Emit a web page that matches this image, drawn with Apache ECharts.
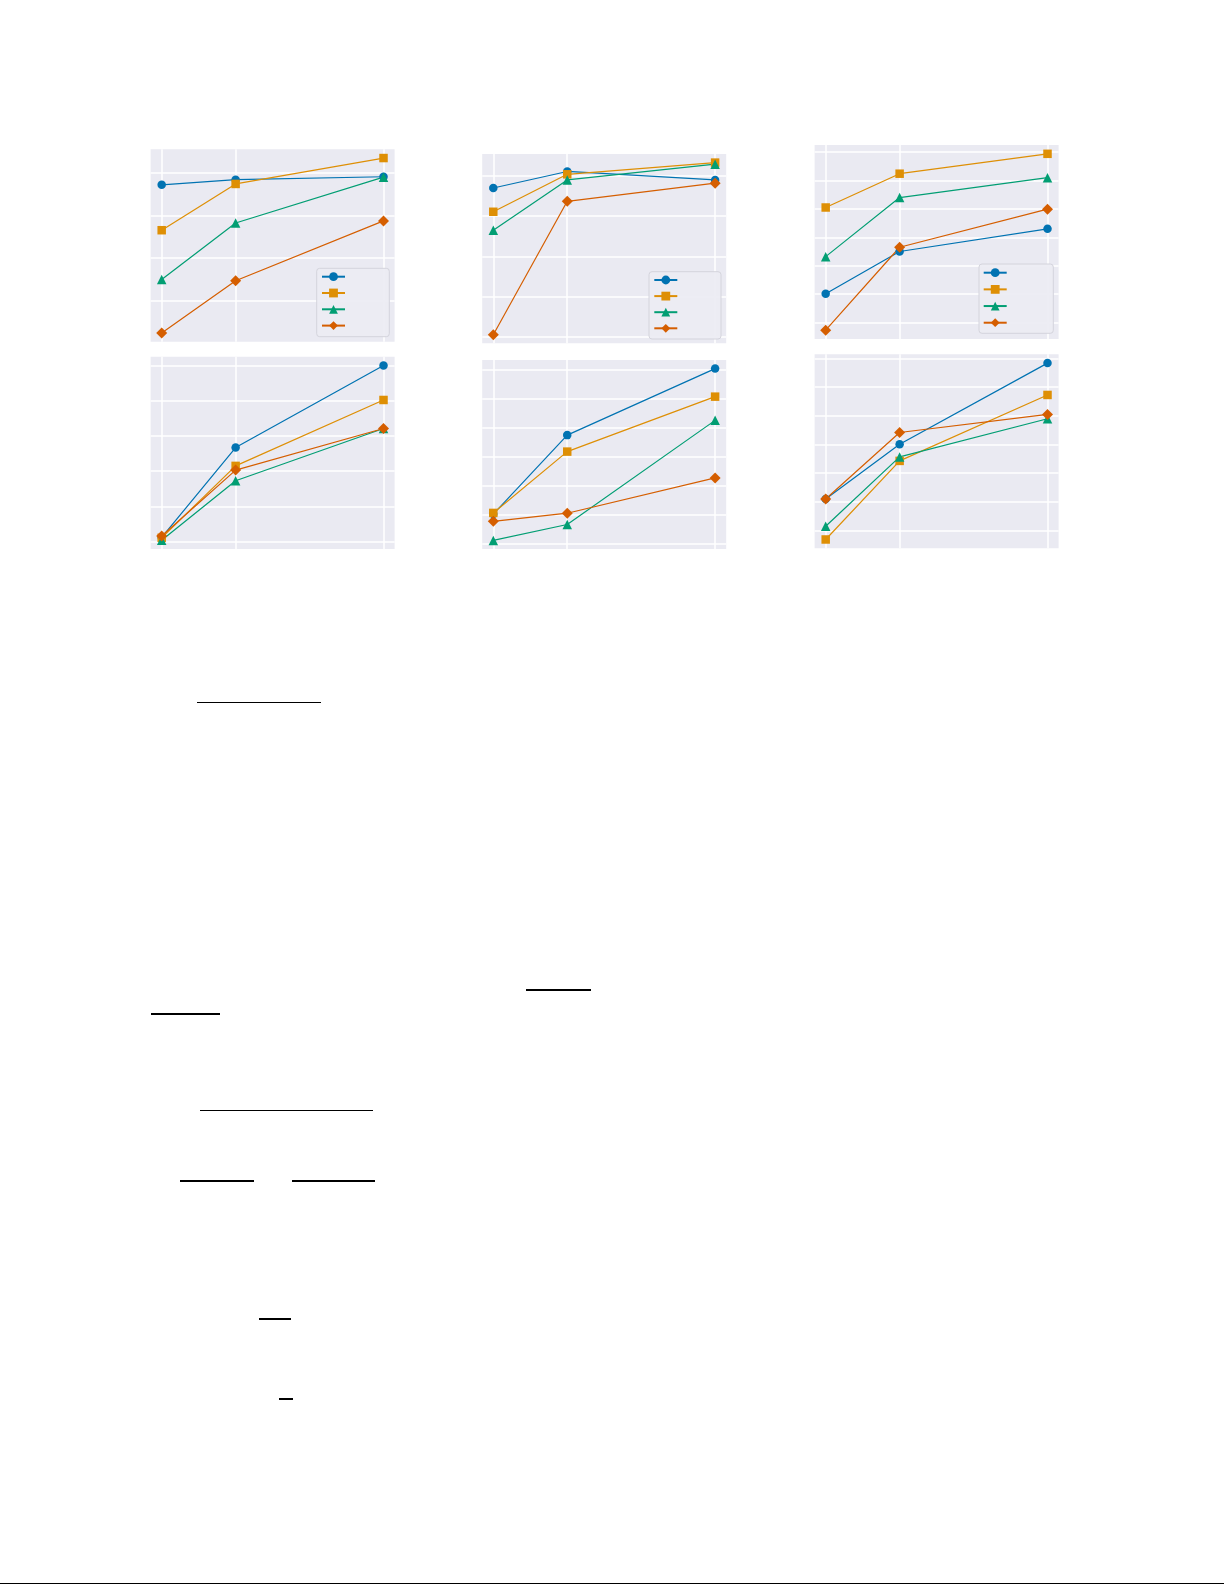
<!DOCTYPE html>
<html>
<head>
<meta charset="utf-8">
<script src="https://cdn.jsdelivr.net/npm/echarts@6/dist/echarts.min.js"></script>
<style>
html,body{margin:0;padding:0;background:#fff;}
#chart{position:absolute;left:0;top:0;width:1225px;height:1585px;}
.rule{position:absolute;height:1.2px;background:#000;z-index:5;}
</style>
</head>
<body>
<div id="chart"></div>
<div class="rule" style="left:197px;top:702px;width:124px"></div>
<div class="rule" style="left:526px;top:989.4px;width:65px"></div>
<div class="rule" style="left:151px;top:1013.4px;width:69px"></div>
<div class="rule" style="left:200px;top:1109.7px;width:173px"></div>
<div class="rule" style="left:180px;top:1180.4px;width:74px"></div>
<div class="rule" style="left:292px;top:1180.4px;width:83px"></div>
<div class="rule" style="left:259px;top:1318.4px;width:32px"></div>
<div class="rule" style="left:279px;top:1398.4px;width:14px"></div>
<div class="rule" style="left:0px;top:1582.8px;width:1224px;height:1.4px"></div>
<script>
// ---- data ----
const xValues = [1, 2, 4];
const xTicks = [1, 2, 4];
const seriesNames = ['Method A', 'Method B', 'Method C', 'Method D'];

const p1Blue = [57.2, 58.4, 59.1];
const p1Orange = [46.5, 57.4, 63.5];
const p1Green = [34.9, 48.2, 59.0];
const p1Red = [22.3, 34.6, 48.7];
const p1Ticks = [30, 40, 50, 60];

const p2Blue = [57.0, 61.1, 59.0];
const p2Orange = [51.1, 60.4, 63.3];
const p2Green = [46.5, 59.0, 62.9];
const p2Red = [20.6, 53.7, 58.2];
const p2Ticks = [20, 30, 40, 50, 60];

const p3Blue = [30.1, 45.0, 53.0];
const p3Orange = [60.5, 72.4, 79.4];
const p3Green = [43.2, 64.0, 71.0];
const p3Red = [17.3, 46.5, 59.9];
const p3Ticks = [20, 30, 40, 50, 60, 70, 80];

const p4Blue = [21.2, 46.7, 70.0];
const p4Orange = [21.1, 41.5, 60.2];
const p4Green = [20.4, 37.3, 52.1];
const p4Red = [21.6, 40.3, 52.1];
const p4Ticks = [20, 30, 40, 50, 60, 70];

const p5Blue = [30.2, 57.5, 80.5];
const p5Orange = [30.6, 51.8, 70.8];
const p5Green = [21.1, 26.6, 62.6];
const p5Red = [27.7, 30.5, 42.7];
const p5Ticks = [20, 30, 40, 50, 60, 70, 80];

const p6Blue = [31.0, 50.1, 78.4];
const p6Orange = [16.9, 44.3, 67.3];
const p6Green = [21.5, 45.7, 59.0];
const p6Red = [31.0, 54.2, 60.5];
const p6Ticks = [20, 30, 40, 50, 60, 70, 80];

// ---- layout / style ----
const panels = [
  { series: [p1Blue, p1Orange, p1Green, p1Red], ticks: p1Ticks, left: 150.6, top: 149.3, height: 192.4 },
  { series: [p2Blue, p2Orange, p2Green, p2Red], ticks: p2Ticks, left: 482.2, top: 154.0, height: 189.3 },
  { series: [p3Blue, p3Orange, p3Green, p3Red], ticks: p3Ticks, left: 814.6, top: 145.0, height: 194.0 },
  { series: [p4Blue, p4Orange, p4Green, p4Red], ticks: p4Ticks, left: 150.6, top: 356.7, height: 192.3 },
  { series: [p5Blue, p5Orange, p5Green, p5Red], ticks: p5Ticks, left: 482.2, top: 360.0, height: 189.0 },
  { series: [p6Blue, p6Orange, p6Green, p6Red], ticks: p6Ticks, left: 814.6, top: 354.3, height: 194.0 }
];
const colors = ['#0173b2', '#de8f05', '#029e73', '#d55e00'];
const symbols = ['circle', 'rect', 'triangle', 'diamond'];
const symbolSizes = [8.5, 8.5, 9.5, [11, 11]];
const panelWidth = 244;

const legends = [
  { left: 316.7, top: 268.3, padding: [4.0, 39.3, 6.7, 4.3], itemGap: 7.5 },
  { left: 649.0, top: 271.7, padding: [3.9, 38.7, 6.3, 4.3], itemGap: 7.3 },
  { left: 979.0, top: 264.0, padding: [4.3, 41.6, 6.2, 3.7], itemGap: 7.87 }
];

const margin = v => (v.max - v.min) * 0.05;
const grid = [], xAxis = [], yAxis = [], series = [];
panels.forEach((p, i) => {
  grid.push({
    left: p.left, top: p.top, width: panelWidth, height: p.height,
    show: true, backgroundColor: '#eaeaf2', borderWidth: 0, containLabel: false
  });
  xAxis.push({
    type: 'value', gridIndex: i, min: 0.85, max: 4.15,
    axisLine: { show: false },
    axisTick: { show: false, customValues: xTicks },
    axisLabel: { show: false, customValues: xTicks },
    splitLine: { show: true, lineStyle: { color: '#ffffff', width: 1.5 } }
  });
  yAxis.push({
    type: 'value', gridIndex: i,
    min: v => v.min - margin(v), max: v => v.max + margin(v),
    axisLine: { show: false },
    axisTick: { show: false, customValues: p.ticks },
    axisLabel: { show: false, customValues: p.ticks },
    splitLine: { show: true, lineStyle: { color: '#ffffff', width: 1.5 } }
  });
  p.series.forEach((vals, k) => {
    series.push({
      type: 'line', name: seriesNames[k], xAxisIndex: i, yAxisIndex: i,
      data: xValues.map((x, j) => [x, vals[j]]),
      symbol: symbols[k], symbolSize: symbolSizes[k], showSymbol: true,
      lineStyle: { color: colors[k], width: 1.2 },
      itemStyle: { color: colors[k] },
      emphasis: { disabled: true }, silent: true, clip: false
    });
  });
});

const legend = legends.map(l => ({
  show: true, orient: 'vertical', left: l.left, top: l.top,
  itemWidth: 23, itemHeight: 11, itemGap: l.itemGap, padding: l.padding,
  backgroundColor: 'rgba(236,236,243,0.92)', borderColor: '#d4d4dc', borderWidth: 1, borderRadius: 3,
  formatter: () => '', textStyle: { fontSize: 10, lineHeight: 10 },
  data: seriesNames, selectedMode: false
}));

const chart = echarts.init(document.getElementById('chart'), null, { renderer: 'canvas' });
chart.setOption({
  animation: false,
  backgroundColor: '#ffffff',
  grid, xAxis, yAxis, series, legend
});
</script>
</body>
</html>
